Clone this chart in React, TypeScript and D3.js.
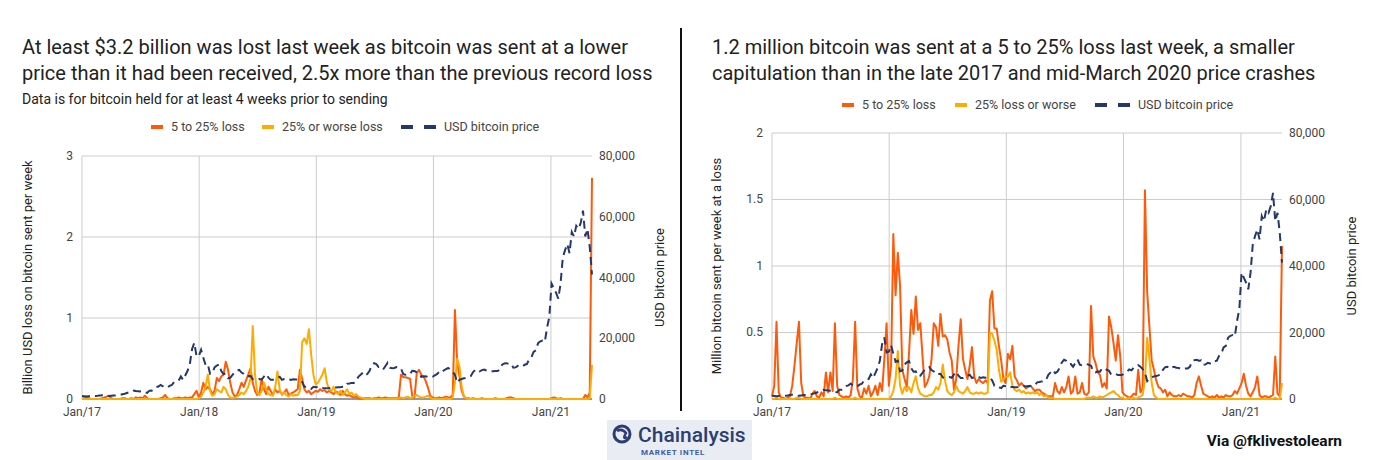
import * as d3 from 'd3'

const FONT = 'Roboto, Arial, sans-serif'
const ORANGE = '#ff5a0a'
const AMBER = '#ffab00'
const NAVY = '#25386b'

// weekly points, first week = Jan 1 2017, 12 weeks per row
const btcPriceUsd = [
    1000, 910, 830, 920, 980, 1020, 990, 1050, 1180, 1260, 1230, 1020,
    970, 1080, 1180, 1180, 1240, 1340, 1550, 1720, 1970, 2200, 2450, 2750,
    2600, 2550, 2500, 2550, 2200, 2000, 2750, 2750, 3250, 3900, 4100, 4600,
    4200, 3700, 3800, 4300, 4600, 5600, 5800, 6000, 7400, 6300, 7800, 9300,
    11500, 16500, 18500, 14000, 14200, 16200, 13600, 11200, 11500, 8300, 8600, 10400,
    11000, 11400, 9200, 8200, 8300, 6900, 7000, 7900, 8900, 9300, 9600, 8700,
    8300, 7400, 7500, 7600, 6500, 6300, 6300, 6600, 6400, 7400, 8200, 7000,
    6300, 6300, 6700, 7000, 7300, 6300, 6600, 6700, 6600, 6300, 6500, 6400,
    6400, 6400, 5600, 4000, 4000, 3500, 3300, 4000, 3900, 4000, 3600, 3600,
    3500, 3500, 3600, 3700, 3900, 3800, 3900, 3900, 4000, 4100, 5000, 5100,
    5300, 5300, 5800, 7300, 8000, 8700, 7800, 8200, 9300, 11000, 11800, 11500,
    10500, 10500, 9700, 10800, 11900, 10300, 10100, 10200, 10500, 10300, 10000, 8200,
    8000, 8300, 8200, 9300, 9200, 8800, 8500, 7300, 7400, 7500, 7200, 7200,
    7300, 7800, 8200, 8900, 8600, 9400, 9800, 10200, 9700, 9000, 7900, 5400,
    6300, 6600, 6800, 6900, 7100, 7500, 8800, 9600, 9700, 9100, 9500, 9700,
    9400, 9300, 9100, 9100, 9200, 9200, 9700, 11300, 11700, 11800, 11500, 11600,
    10300, 10400, 10900, 10700, 10600, 11300, 11500, 13000, 13700, 15500, 16000, 18400,
    19000, 19200, 18800, 23500, 27000, 38000, 36500, 35000, 33000, 38000, 46500, 49000,
    51000, 48000, 55000, 53500, 57000, 56000, 58000, 62000, 53500, 56000, 50000, 41000,
]

// billion USD lost, 5 to 25% loss
const usdLoss5to25 = [
    0, 0.01, 0.03, 0.01, 0, 0, 0, 0, 0, 0.01, 0.02, 0.03,
    0.04, 0.01, 0, 0, 0, 0, 0.01, 0.01, 0, 0, 0.01, 0,
    0.02, 0.01, 0.02, 0.01, 0.04, 0.01, 0, 0, 0, 0, 0, 0.01,
    0.02, 0.05, 0.01, 0, 0, 0.01, 0.01, 0.02, 0.01, 0.01, 0.02, 0.01,
    0.02, 0.02, 0.06, 0.1, 0.02, 0.08, 0.2, 0.12, 0.15, 0.12, 0.06, 0.1,
    0.26, 0.22, 0.28, 0.3, 0.46, 0.36, 0.2, 0.08, 0.03, 0.05, 0.12, 0.2,
    0.15, 0.23, 0.3, 0.38, 0.2, 0.1, 0.05, 0.08, 0.25, 0.12, 0.06, 0.15,
    0.1, 0.05, 0.12, 0.08, 0.1, 0.06, 0.08, 0.12, 0.05, 0.07, 0.08, 0.1,
    0.12, 0.36, 0.25, 0.12, 0.08, 0.1, 0.06, 0.08, 0.1, 0.09, 0.12, 0.1,
    0.11, 0.08, 0.1, 0.08, 0.06, 0.09, 0.08, 0.05, 0.1, 0.06, 0.04, 0.05,
    0.03, 0.02, 0.03, 0.01, 0.01, 0, 0.01, 0.01, 0.01, 0, 0.01, 0.01,
    0.02, 0.01, 0.01, 0.02, 0.01, 0.01, 0.01, 0.01, 0.01, 0.02, 0.3, 0.27,
    0.27, 0.26, 0.25, 0.04, 0.02, 0.32, 0.36, 0.3, 0.28, 0.22, 0.14, 0.04,
    0.02, 0.01, 0.01, 0.02, 0.01, 0.02, 0.03, 0.02, 0.02, 0.05, 1.1, 0.45,
    0.28, 0.1, 0.03, 0.01, 0.01, 0, 0.01, 0, 0, 0, 0.01, 0,
    0, 0, 0, 0, 0.01, 0, 0, 0, 0, 0.01, 0.02, 0.02,
    0.01, 0, 0, 0, 0, 0, 0, 0, 0, 0, 0, 0,
    0, 0, 0, 0, 0, 0.01, 0.02, 0.01, 0, 0.01, 0, 0,
    0, 0, 0, 0, 0, 0, 0, 0, 0.05, 0.02, 0.08, 2.73,
]

// billion USD lost, 25% or worse loss
const usdLoss25plus = [
    0, 0, 0, 0, 0, 0, 0, 0, 0, 0, 0, 0,
    0, 0, 0, 0, 0, 0, 0, 0, 0, 0, 0, 0,
    0, 0, 0, 0, 0, 0, 0, 0, 0, 0, 0, 0,
    0, 0, 0, 0, 0, 0, 0, 0, 0, 0, 0, 0,
    0, 0, 0, 0, 0.01, 0.03, 0.08, 0.15, 0.3, 0.1, 0.04, 0.06,
    0.12, 0.1, 0.08, 0.15, 0.12, 0.05, 0.02, 0.01, 0.02, 0.03, 0.05, 0.08,
    0.06, 0.1, 0.15, 0.25, 0.9, 0.3, 0.08, 0.05, 0.1, 0.2, 0.12, 0.06,
    0.05, 0.04, 0.15, 0.34, 0.12, 0.05, 0.08, 0.05, 0.03, 0.06, 0.04, 0.05,
    0.05, 0.1, 0.7, 0.75, 0.68, 0.86, 0.55, 0.3, 0.18, 0.2, 0.25, 0.3,
    0.38, 0.2, 0.12, 0.1, 0.15, 0.08, 0.06, 0.1, 0.05, 0.08, 0.12, 0.06,
    0.08, 0.04, 0.06, 0.03, 0.02, 0.01, 0, 0, 0, 0, 0, 0,
    0, 0, 0, 0, 0, 0, 0, 0, 0, 0.01, 0.02, 0.01,
    0.02, 0.03, 0.01, 0.02, 0.04, 0.05, 0.03, 0.02, 0.02, 0.03, 0.04, 0.02,
    0, 0, 0, 0, 0, 0, 0.01, 0, 0, 0.02, 0.2, 0.5,
    0.4, 0.15, 0.03, 0.01, 0, 0, 0, 0, 0, 0, 0, 0,
    0, 0, 0, 0, 0, 0, 0, 0, 0, 0, 0, 0,
    0, 0, 0, 0, 0, 0, 0, 0, 0, 0, 0, 0,
    0, 0, 0, 0, 0, 0, 0, 0, 0, 0, 0, 0,
    0, 0, 0, 0, 0, 0, 0, 0, 0, 0, 0.01, 0.42,
]

// million bitcoin sent, 5 to 25% loss
const btcSent5to25 = [
    0.02, 0.1, 0.58, 0.05, 0.01, 0.01, 0, 0.01, 0.02, 0.1, 0.25, 0.42,
    0.58, 0.12, 0.02, 0.01, 0.01, 0, 0.04, 0.06, 0.02, 0.01, 0.05, 0.02,
    0.2, 0.05, 0.2, 0.06, 0.57, 0.1, 0.03, 0.02, 0.01, 0.02, 0.01, 0.03,
    0.15, 0.58, 0.08, 0.02, 0.01, 0.08, 0.04, 0.1, 0.02, 0.05, 0.1, 0.03,
    0.12, 0.06, 0.3, 0.57, 0.1, 0.25, 1.24, 0.78, 1.1, 0.85, 0.22, 0.15,
    0.09, 0.35, 0.67, 0.49, 0.77, 0.52, 0.57, 0.32, 0.09, 0.12, 0.17, 0.3,
    0.57, 0.54, 0.4, 0.64, 0.47, 0.48, 0.45, 0.35, 0.29, 0.07, 0.15, 0.4,
    0.6, 0.3, 0.22, 0.15, 0.25, 0.39, 0.17, 0.12, 0.15, 0.13, 0.12, 0.14,
    0.12, 0.74, 0.81, 0.53, 0.53, 0.4, 0.29, 0.15, 0.12, 0.34, 0.3, 0.4,
    0.17, 0.14, 0.1, 0.12, 0.1, 0.08, 0.09, 0.1, 0.08, 0.06, 0.07, 0.07,
    0.05, 0.04, 0.03, 0.02, 0.02, 0.02, 0.12, 0.06, 0.04, 0.09, 0.05, 0.09,
    0.17, 0.04, 0.06, 0.17, 0.04, 0.05, 0.12, 0.04, 0.03, 0.05, 0.7, 0.32,
    0.27, 0.2, 0.18, 0.09, 0.12, 0.08, 0.62, 0.54, 0.42, 0.29, 0.48, 0.32,
    0.05, 0.03, 0.02, 0.01, 0.02, 0.04, 0.03, 0.22, 0.05, 0.08, 1.57, 0.8,
    0.54, 0.29, 0.22, 0.14, 0.09, 0.08, 0.05, 0.07, 0.02, 0.05, 0.03, 0.02,
    0.02, 0.03, 0.02, 0.04, 0.03, 0.02, 0.02, 0.01, 0.03, 0.12, 0.17, 0.1,
    0.04, 0.03, 0.02, 0.01, 0.02, 0.01, 0.03, 0.01, 0.02, 0.01, 0.03, 0.02,
    0.02, 0.03, 0.06, 0.04, 0.08, 0.12, 0.19, 0.1, 0.04, 0.02, 0.05, 0.09,
    0.17, 0.03, 0.01, 0.02, 0.02, 0.01, 0.02, 0.03, 0.32, 0.04, 0.02, 1.15,
]

// million bitcoin sent, 25% loss or worse
const btcSent25plus = [
    0, 0, 0.01, 0, 0, 0, 0, 0, 0, 0, 0, 0.01,
    0.01, 0, 0, 0, 0, 0, 0, 0, 0, 0, 0, 0,
    0, 0, 0, 0, 0.01, 0, 0, 0, 0, 0, 0, 0,
    0, 0.01, 0, 0, 0, 0, 0, 0, 0, 0, 0, 0,
    0, 0, 0, 0, 0, 0.02, 0.06, 0.15, 0.36, 0.1, 0.04, 0.09,
    0.06, 0.09, 0.05, 0.12, 0.17, 0.08, 0.04, 0.03, 0.02, 0.02, 0.03, 0.03,
    0.05, 0.09, 0.07, 0.12, 0.26, 0.14, 0.06, 0.04, 0.03, 0.05, 0.1, 0.06,
    0.05, 0.04, 0.06, 0.09, 0.05, 0.04, 0.04, 0.05, 0.04, 0.05, 0.04, 0.04,
    0.05, 0.5, 0.49, 0.44, 0.37, 0.22, 0.13, 0.15, 0.17, 0.17, 0.2, 0.1,
    0.07, 0.06, 0.07, 0.05, 0.06, 0.04, 0.05, 0.04, 0.05, 0.04, 0.05, 0.03,
    0.04, 0.02, 0.03, 0.01, 0.01, 0.01, 0, 0, 0, 0, 0, 0,
    0, 0, 0, 0, 0, 0, 0, 0, 0.01, 0.01, 0.01, 0.02,
    0.01, 0.01, 0.02, 0.01, 0.02, 0.03, 0.04, 0.05, 0.06, 0.04, 0.03, 0.01,
    0.01, 0, 0, 0.01, 0, 0.01, 0, 0.01, 0.02, 0.03, 0.15, 0.46,
    0.3, 0.12, 0.03, 0.01, 0, 0, 0, 0, 0, 0, 0, 0,
    0, 0, 0, 0, 0, 0, 0, 0, 0, 0, 0, 0,
    0, 0, 0, 0, 0, 0, 0, 0, 0, 0, 0, 0,
    0, 0, 0, 0, 0, 0, 0, 0, 0, 0, 0, 0,
    0, 0, 0, 0, 0, 0, 0, 0, 0.01, 0, 0, 0.12,
]

const yearLabels = ['Jan/17', 'Jan/18', 'Jan/19', 'Jan/20', 'Jan/21']
const priceTicks = [0, 20000, 40000, 60000, 80000]
const usdLossTicks = [0, 1, 2, 3]
const btcSentTicks = [0, 0.5, 1, 1.5, 2]

const weeks = btcPriceUsd.map((_, i) => d3.timeWeek.offset(new Date(2017, 0, 1), i))
const yearDates = yearLabels.map((_, i) => new Date(2017 + i, 0, 1))

type PanelProps = {
    left: number
    right: number
    top: number
    bottom: number
    lossMax: number
    lossTicks: number[]
    five: number[]
    worse: number[]
    yTitle: string
    yTitleX: number
    priceTitleX: number
}

const Panel = ({ left, right, top, bottom, lossMax, lossTicks, five, worse, yTitle, yTitleX, priceTitleX }: PanelProps) => {
    const x = d3.scaleTime().domain([weeks[0], weeks[weeks.length - 1]]).range([left, right])
    const y = d3.scaleLinear().domain([0, lossMax]).range([bottom, top])
    const yp = d3.scaleLinear().domain([0, 80000]).range([bottom, top])

    const lossLine = d3.line<number>().x((_, i) => x(weeks[i])).y(d => y(d))
    const priceLine = d3.line<number>().x((_, i) => x(weeks[i])).y(d => yp(d))
    const mid = (top + bottom) / 2

    return (
        <g fontFamily={FONT}>
            {lossTicks.filter(t => t > 0).map(t => (
                <line key={'h' + t} x1={left} x2={right} y1={y(t)} y2={y(t)} stroke="#cccccc" />
            ))}
            {yearDates.map((d, i) => (
                <line key={'v' + i} x1={x(d)} x2={x(d)} y1={top} y2={bottom} stroke="#cccccc" />
            ))}
            <line x1={left} x2={right} y1={bottom} y2={bottom} stroke="#333" />

            <path d={lossLine(five) ?? ''} fill="none" stroke={ORANGE} strokeWidth={2} strokeLinejoin="round" />
            <path d={lossLine(worse) ?? ''} fill="none" stroke={AMBER} strokeWidth={2} strokeLinejoin="round" />
            <path d={priceLine(btcPriceUsd) ?? ''} fill="none" stroke={NAVY} strokeWidth={2} strokeDasharray="8,5" />

            {lossTicks.map(t => (
                <text key={'l' + t} x={left - 9} y={y(t)} dy="0.32em" textAnchor="end" fontSize={12} fill="#444">
                    {t}
                </text>
            ))}
            {priceTicks.map(t => (
                <text key={'r' + t} x={right + 7} y={yp(t)} dy="0.35em" fontSize={12} fill="#444">
                    {d3.format(',')(t)}
                </text>
            ))}
            {yearDates.map((d, i) => (
                <text key={'x' + i} x={x(d)} y={bottom + 17} textAnchor="middle" fontSize={12} fill="#444">
                    {yearLabels[i]}
                </text>
            ))}
            <text transform={`translate(${yTitleX},${mid}) rotate(-90)`} textAnchor="middle" fontSize={13} fill="#222">
                {yTitle}
            </text>
            <text transform={`translate(${priceTitleX},${mid}) rotate(-90)`} textAnchor="middle" fontSize={13} fill="#222">
                USD bitcoin price
            </text>
        </g>
    )
}

const Legend = ({ x, y, labels }: { x: number[]; y: number; labels: string[] }) => (
    <g fontFamily={FONT} fontSize={12.5} fill="#444">
        <rect x={x[0]} y={y - 2} width={12} height={4} fill={ORANGE} />
        <text x={x[0] + 20} y={y} dy="0.35em">{labels[0]}</text>
        <rect x={x[1]} y={y - 2} width={12} height={4} fill={AMBER} />
        <text x={x[1] + 20} y={y} dy="0.35em">{labels[1]}</text>
        <line x1={x[2]} x2={x[2] + 35} y1={y} y2={y} stroke={NAVY} strokeWidth={4} strokeDasharray="12,11" />
        <text x={x[2] + 43} y={y} dy="0.35em">{labels[2]}</text>
    </g>
)

const App = () => {
    return (
        <svg width={1380} height={460} style={{ position: 'absolute', left: 0, top: 0, background: '#fff' }}>
            <g fontFamily={FONT} fill="#222" fontSize={20}>
                <text x={22} y={54}>At least $3.2 billion was lost last week as bitcoin was sent at a lower</text>
                <text x={22} y={80}>price than it had been received, 2.5x more than the previous record loss</text>
                <text x={22} y={104} fontSize={14}>Data is for bitcoin held for at least 4 weeks prior to sending</text>
                <text x={712} y={54}>1.2 million bitcoin was sent at a 5 to 25% loss last week, a smaller</text>
                <text x={712} y={80}>capitulation than in the late 2017 and mid-March 2020 price crashes</text>
            </g>

            <Legend x={[151, 262, 401]} y={127} labels={['5 to 25% loss', '25% or worse loss', 'USD bitcoin price']} />
            <Legend x={[842, 955, 1095]} y={105} labels={['5 to 25% loss', '25% loss or worse', 'USD bitcoin price']} />

            <Panel
                left={82} right={592} top={156} bottom={399}
                lossMax={3} lossTicks={usdLossTicks}
                five={usdLoss5to25} worse={usdLoss25plus}
                yTitle="Billion USD loss on bitcoin sent per week" yTitleX={32} priceTitleX={664}
            />
            <Panel
                left={772} right={1282} top={133} bottom={399}
                lossMax={2} lossTicks={btcSentTicks}
                five={btcSent5to25} worse={btcSent25plus}
                yTitle="Million bitcoin sent per week at a loss" yTitleX={721} priceTitleX={1356}
            />

            <line x1={681} x2={681} y1={28} y2={411} stroke="#111" strokeWidth={2} />

            <g>
                <rect x={607} y={420} width={145} height={40} fill="#eaecf3" />
                <circle cx={622} cy={434} r={8} fill="none" stroke="#2c3d72" strokeWidth={3} />
                <path d="M617,431 Q622,428 626,433 Q622,440 627,437" fill="none" stroke="#2c3d72" strokeWidth={2.5} />
                <text x={638} y={442} fontFamily={FONT} fontSize={21} fontWeight={500} fill="#2c3d72">Chainalysis</text>
                <text x={641} y={455} fontFamily={FONT} fontSize={8} fontWeight={700} fill="#3d5ca8" letterSpacing={0.7}>MARKET INTEL</text>
            </g>
            <text x={1342} y={446} textAnchor="end" fontFamily={FONT} fontSize={15.5} fontWeight={700} fill="#111">
                Via @fklivestolearn
            </text>
        </svg>
    )
}

export default App
